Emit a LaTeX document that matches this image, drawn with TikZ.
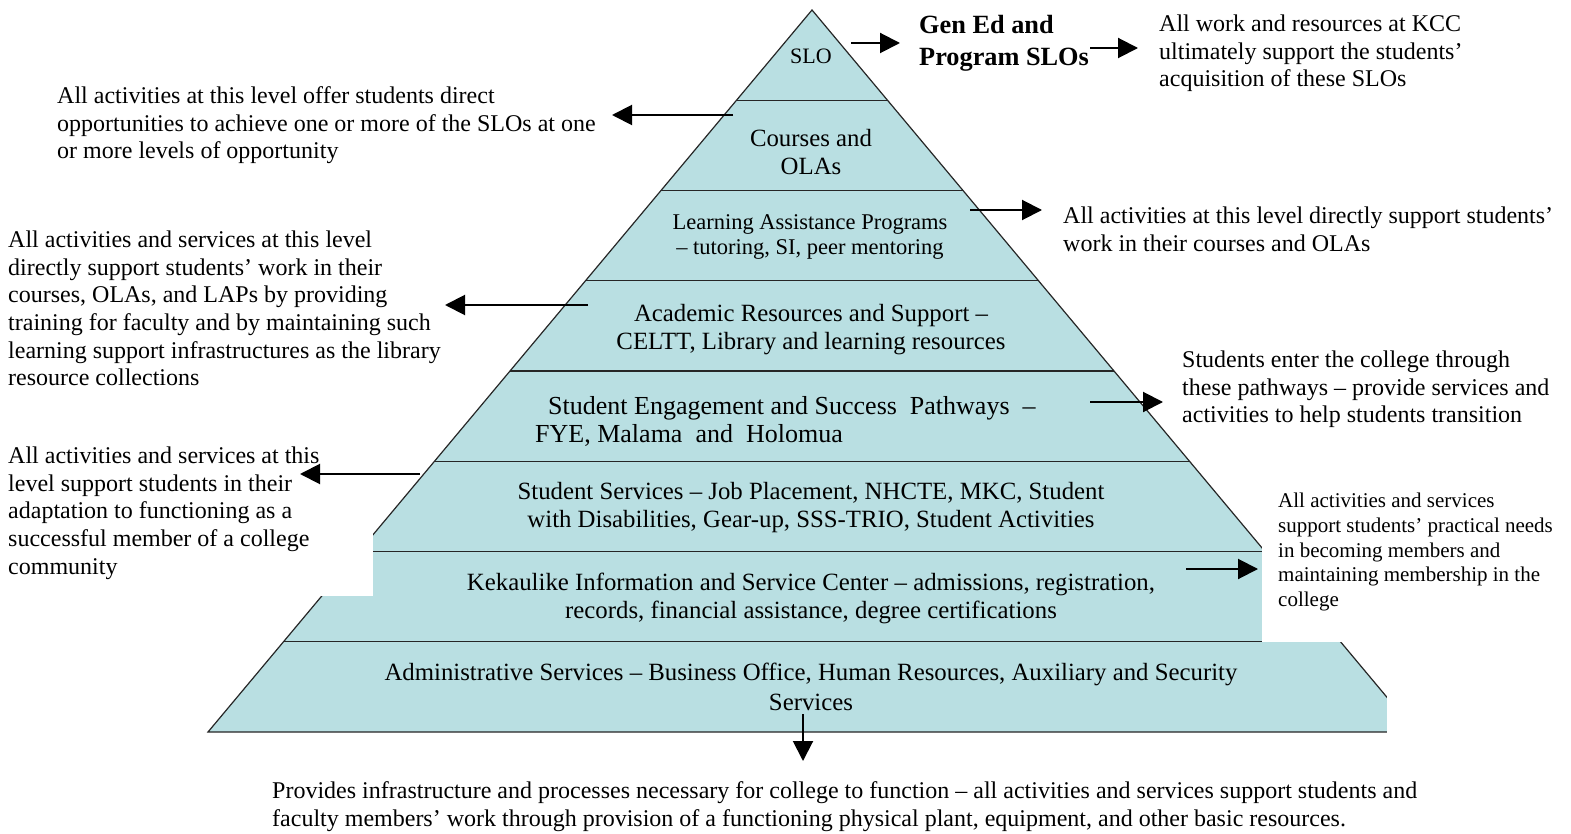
\documentclass[tikz,border=0pt]{standalone}
\usepackage{fontspec}
\setmainfont{Liberation Serif}
\usetikzlibrary{arrows.meta}
\definecolor{pyr}{RGB}{185,223,226}
\begin{document}
\begin{tikzpicture}[x=1pt,y=-1pt,
  layerline/.style={draw=black!85, line width=1.2pt},
  arr/.style={line width=2pt, -{Triangle[length=20pt,width=20pt]}},
  note/.style={inner sep=0pt, align=left, anchor=north west, font=\fontsize{24}{27.7}\selectfont},
  smallnote/.style={inner sep=0pt, align=left, anchor=north west, font=\fontsize{21}{24.7}\selectfont},
  lvl/.style={inner sep=0pt, align=center, font=\fontsize{24.8}{28}\selectfont},
]
\useasboundingbox (0,0) rectangle (1571,834);
% pyramid body
\fill[pyr] (812,10) -- (1416,732) -- (208,732) -- cycle;
\foreach \y in {100.25,190.5,280.75,371,461.25,551.5,641.75}{
  \pgfmathsetmacro{\dx}{0.83657*(\y-10)}
  \draw[layerline] ({812-\dx},\y) -- ({812+\dx},\y);
}
\draw[layerline] (208,732) -- (812,10) -- (1416,732) -- cycle;
% white cut-outs
\fill[white] (290,525) rectangle (373,595.5);
\fill[white] (1262,535) rectangle (1440,642.4);
\fill[white] (1386.5,688) rectangle (1440,745);

% level texts
\node[lvl, font=\fontsize{22}{26}\selectfont] (slo) at (811,56) {SLO};
\node[lvl] (courses) at (811,152) {Courses and\\OLAs};
\node[lvl, font=\fontsize{22.5}{25}\selectfont] (lap) at (810,237) {Learning Assistance Programs\\– tutoring, SI, peer mentoring};
\node[lvl] (acad) at (811,330) {Academic Resources and Support –\\CELTT, Library and learning resources};
\node[inner sep=0pt, align=left, anchor=north west, font=\fontsize{26}{28}\selectfont] (sesp) at (535,396.5) {\hspace{13pt}Student Engagement and Success\ \ Pathways\ \ –\\FYE, Malama\ \ and\ \ Holomua};
\node[lvl] (stserv) at (811,508) {Student Services – Job Placement, NHCTE, MKC, Student\\with Disabilities, Gear-up, SSS-TRIO,\ Student Activities};
\node[lvl] (kek) at (811,598) {Kekaulike Information and Service Center – admissions, registration,\\records, financial assistance,\ degree certifications};
\node[lvl, font=\fontsize{24.8}{30}\selectfont] (admin) at (811,687) {Administrative Services – Business Office, Human Resources, Auxiliary and Security\\Services};

% side texts
\node[inner sep=0pt, align=left, anchor=north west, font=\bfseries\fontsize{26.3}{32}\selectfont] (gened) at (919,15) {Gen Ed and\\Program SLOs};
\node[note] (t1) at (1159,14.5) {All work and resources at KCC\\ultimately support the students’\\acquisition of these SLOs};
\node[note] (t2) at (57,86.5) {All activities at this level offer students direct\\opportunities to achieve one or more of the SLOs at one\\or more levels of opportunity};
\node[note] (t3) at (1063,206.5) {All activities at this level directly support students’\\work in their courses and OLAs};
\node[note] (t4) at (8,230.5) {All activities and services at this level\\directly support students’ work in their\\courses, OLAs, and LAPs by providing\\training for faculty and by maintaining such\\learning support infrastructures as the library\\resource collections};
\node[note] (t5) at (1182,350.5) {Students enter the college through\\these pathways – provide services and\\activities to help students transition};
\node[note] (t6) at (8,446.5) {All activities and services at this\\level support students in their\\adaptation to functioning as a\\successful member of a college\\community};
\node[smallnote] (t7) at (1278,493) {All activities and services\\support students’ practical needs\\in becoming members and\\maintaining membership in the\\college};
\node[note] (t8) at (272,781.5) {Provides infrastructure and processes necessary for college to function – all activities and services support students and\\faculty members’ work through provision of a functioning physical plant, equipment, and other basic resources.};

% arrow end points
\coordinate (a1s) at (851,43);   \coordinate (a1e) at (900,43);
\coordinate (a2s) at (1090,48);  \coordinate (a2e) at (1138,48);
\coordinate (a3s) at (733,115);  \coordinate (a3e) at (612,115);
\coordinate (a4s) at (970,210);  \coordinate (a4e) at (1042,210);
\coordinate (a5s) at (588,305);  \coordinate (a5e) at (445,305);
\coordinate (a6s) at (1090,402); \coordinate (a6e) at (1163,402);
\coordinate (a7s) at (420,474);  \coordinate (a7e) at (300,474);
\coordinate (a8s) at (1186,569); \coordinate (a8e) at (1258,569);
\coordinate (a9s) at (803,714);  \coordinate (a9e) at (803,761);

\draw[arr] (a1s) -- (a1e);
\draw[arr] (a2s) -- (a2e);
\draw[arr] (a3s) -- (a3e);
\draw[arr] (a4s) -- (a4e);
\draw[arr] (a5s) -- (a5e);
\draw[arr] (a6s) -- (a6e);
\draw[arr] (a7s) -- (a7e);
\draw[arr] (a8s) -- (a8e);
\draw[arr] (a9s) -- (a9e);
\end{tikzpicture}
\end{document}
